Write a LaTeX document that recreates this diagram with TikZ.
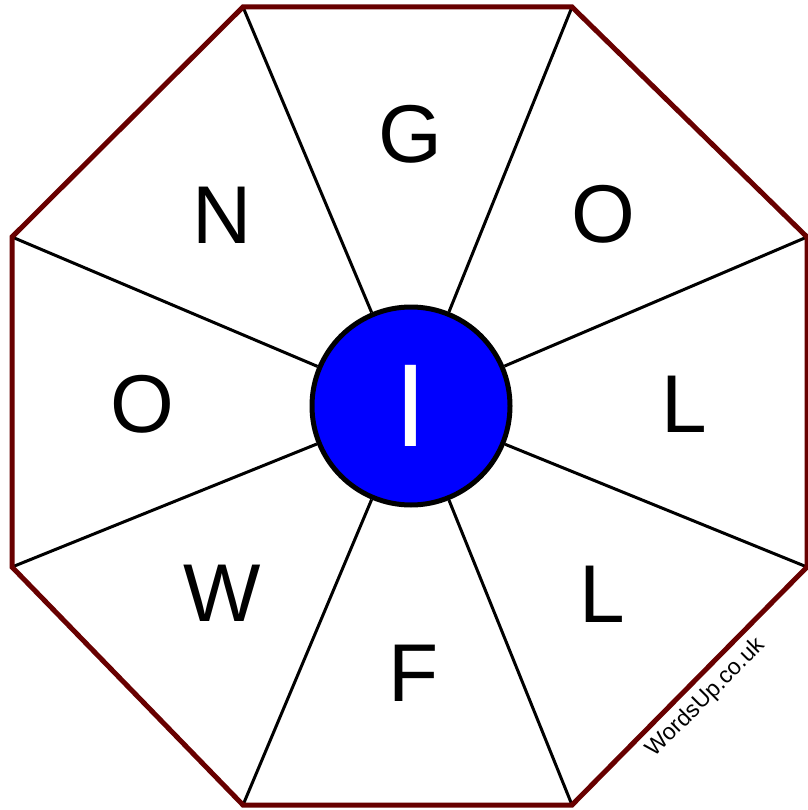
\documentclass[tikz,border=0pt]{standalone}
\usepackage{fontspec}
\setmainfont{Liberation Sans}
\usepackage{xcolor}
\usetikzlibrary{positioning,calc}
\definecolor{WUMaroon}{HTML}{680000}
\definecolor{WUBlue}  {HTML}{0000FF}
\definecolor{WUInk}   {HTML}{000000}
\definecolor{WUWhite} {HTML}{FFFFFF}

\tikzset{
  rimline/.style={draw=WUMaroon,line width=5pt,line join=miter},
  spokeline/.style={draw=WUInk,line width=3pt},
  hubdisc/.style={circle,draw=WUInk,fill=WUBlue,line width=5pt,minimum size=198pt,inner sep=0pt},
  tile/.style={font=\fontsize{82}{82}\selectfont,text=WUInk,inner sep=0pt}
}

\begin{document}
\begin{tikzpicture}[x=1pt,y=-1pt]
    \useasboundingbox (0,0) rectangle (807,810);
    \fill[white] (0,0) rectangle (807,810);

    % Octagon corners
    \coordinate (v1) at (243,7);
    \coordinate (v2) at (572,7);
    \coordinate (v3) at (807,237);
    \coordinate (v4) at (807,567);
    \coordinate (v5) at (572,805);
    \coordinate (v6) at (243,805);
    \coordinate (v7) at (12,567);
    \coordinate (v8) at (12,237);

    % Hub
    \node[hubdisc] (hub) at (411,406){};

    % Spokes
    \draw[spokeline] (v1) -- (hub);
    \draw[spokeline] (v2) -- (hub);
    \draw[spokeline] (v3) -- (hub);
    \draw[spokeline] (v4) -- (hub);
    \draw[spokeline] (v5) -- (hub);
    \draw[spokeline] (v6) -- (hub);
    \draw[spokeline] (v7) -- (hub);
    \draw[spokeline] (v8) -- (hub);

    % Rim
    \draw[rimline] (v1) -- (v2) -- (v3) -- (v4) -- (v5) -- (v6) -- (v7) -- (v8) -- cycle;

    % Outer letters
    \node[tile] (tileG)  at (410,134){G};
    \node[tile] (tileO1) at (603,214){O};
    \node[tile] (tileL1) at (684,404){L};
    \node[tile] (tileL2) at (602,594){L};
    \node[tile] (tileF)  at (414,673){F};
    \node[tile] (tileW)  at (222,593){W};
    \node[tile] (tileO2) at (142,404){O};
    \node[tile] (tileN)  at (222,215){N};

    % Centre letter
    \node[font=\fontsize{118}{118}\selectfont,text=WUWhite,inner sep=0pt] (tileI) at (hub){I};

    % Site mark
    \node[font=\fontsize{23}{23}\selectfont,text=WUInk,rotate=45,inner sep=0pt] (site) at (706,698){WordsUp.co.uk};
  \end{tikzpicture}
\end{document}
